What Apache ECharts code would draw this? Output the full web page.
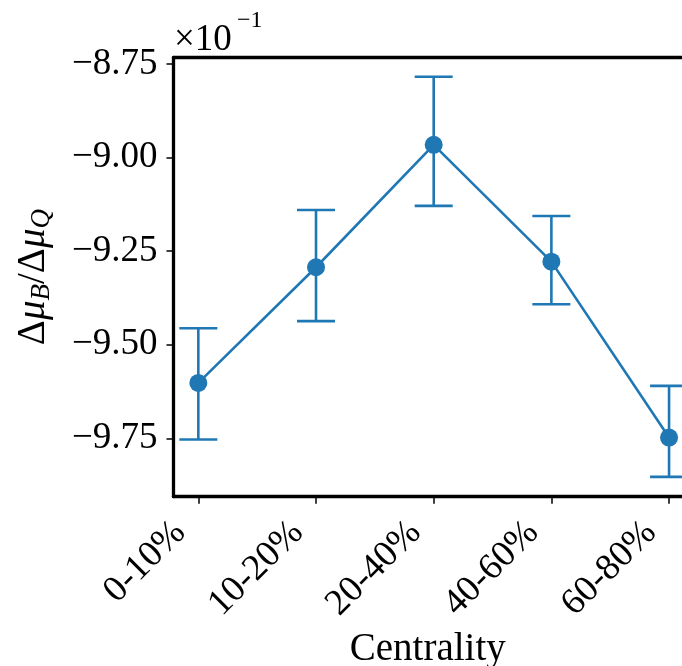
<!DOCTYPE html>
<html>
<head>
<meta charset="utf-8">
<script src="https://cdn.jsdelivr.net/npm/echarts@6/dist/echarts.min.js"></script>
<style>
html,body{margin:0;padding:0;background:#fff;}
#chart{width:682px;height:666px;}
</style>
</head>
<body>
<div id="chart"></div>
<script>
// Data (values shown in units of 1e-1, as on the axis)
const categories = ['0-10%', '10-20%', '20-40%', '40-60%', '60-80%'];
const values = [-9.602, -9.293, -8.966, -9.278, -9.748];
const upper = [-9.456, -9.140, -8.784, -9.156, -9.610];
const lower = [-9.753, -9.437, -9.129, -9.392, -9.853];
const yTicks = [-9.75, -9.50, -9.25, -9.00, -8.75];
const xTicks = [0, 1, 2, 3, 4];

const color = '#1f77b4';
const font = 'Liberation Serif';

const lineData = values.map((v, i) => [i, v]);
const errData = values.map((v, i) => [i, lower[i], upper[i]]);

const chart = echarts.init(document.getElementById('chart'), null, {renderer: 'canvas'});

const option = {
  animation: false,
  backgroundColor: '#fff',
  grid: {left: 173.5, right: 0, top: 57.5, bottom: 169.3, containLabel: false, outerBoundsMode: 'none'},
  xAxis: [{
    type: 'value',
    min: -0.211,
    max: 4.11,
    position: 'bottom',
    splitLine: {show: false},
    axisLine: {show: true, onZero: false, lineStyle: {color: '#000', width: 3.3}},
    axisTick: {show: true, customValues: xTicks, length: 7, lineStyle: {color: '#000', width: 1.5}},
    axisLabel: {
      customValues: xTicks,
      rotate: 45,
      margin: 12,
      padding: [0, 26, 0, 0],
      fontFamily: font, fontSize: 37, color: '#000',
      formatter: v => categories[Math.round(v)]
    },
    name: 'Centrality',
    nameLocation: 'middle',
    nameGap: 125,
    nameTextStyle: {fontFamily: font, fontSize: 39, color: '#000'}
  }, {
    type: 'value',
    min: -0.211,
    max: 4.11,
    position: 'top',
    splitLine: {show: false},
    axisLine: {show: true, onZero: false, lineStyle: {color: '#000', width: 3.3}},
    axisTick: {show: false},
    axisLabel: {show: false}
  }],
  yAxis: {
    type: 'value',
    min: -9.906,
    max: -8.7326,
    splitLine: {show: false},
    axisLine: {show: true, onZero: false, lineStyle: {color: '#000', width: 3.3}},
    axisTick: {show: true, customValues: yTicks, length: 7, lineStyle: {color: '#000', width: 1.5}},
    axisLabel: {
      customValues: yTicks,
      margin: 16,
      fontFamily: font, fontSize: 37, color: '#000',
      formatter: v => v.toFixed(2).replace('-', '\u2212')
    },
    name: '{d|Δ}{m|μ}{s|B}{d|/Δ}{m|μ}{s|Q}',
    nameLocation: 'middle',
    nameRotate: 90,
    nameGap: 118,
    nameTextStyle: {
      fontFamily: font, fontSize: 39, color: '#000',
      rich: {
        d: {fontFamily: font, fontSize: 39, color: '#000', lineHeight: 44},
        m: {fontFamily: font, fontSize: 39, fontStyle: 'italic', color: '#000', lineHeight: 44},
        s: {fontFamily: font, fontSize: 27, fontStyle: 'italic', color: '#000', lineHeight: 44, verticalAlign: 'bottom', padding: [10, 0, 0, 0]}
      }
    }
  },
  graphic: [{
    type: 'text',
    left: 174,
    top: 22,
    style: {text: '×10', font: '37px "Liberation Serif"', fill: '#000'}
  }, {
    type: 'text',
    left: 237,
    top: 9,
    style: {text: '\u22121', font: '24px "Liberation Serif"', fill: '#000'}
  }],
  series: [{
    type: 'custom',
    xAxisIndex: 0,
    data: errData,
    z: 2,
    renderItem: function (params, api) {
      const x = api.value(0);
      const lo = api.coord([x, api.value(1)]);
      const hi = api.coord([x, api.value(2)]);
      const hw = 19;
      const st = {stroke: color, lineWidth: 2.6};
      return {
        type: 'group',
        children: [
          {type: 'line', shape: {x1: lo[0], y1: lo[1], x2: hi[0], y2: hi[1]}, style: st},
          {type: 'line', shape: {x1: lo[0] - hw, y1: lo[1], x2: lo[0] + hw, y2: lo[1]}, style: st},
          {type: 'line', shape: {x1: hi[0] - hw, y1: hi[1], x2: hi[0] + hw, y2: hi[1]}, style: st}
        ]
      };
    }
  }, {
    type: 'line',
    xAxisIndex: 0,
    data: lineData,
    z: 3,
    symbol: 'circle',
    symbolSize: 18,
    lineStyle: {color: color, width: 2.6},
    itemStyle: {color: color, borderWidth: 0}
  }]
};
chart.setOption(option);
</script>
</body>
</html>
